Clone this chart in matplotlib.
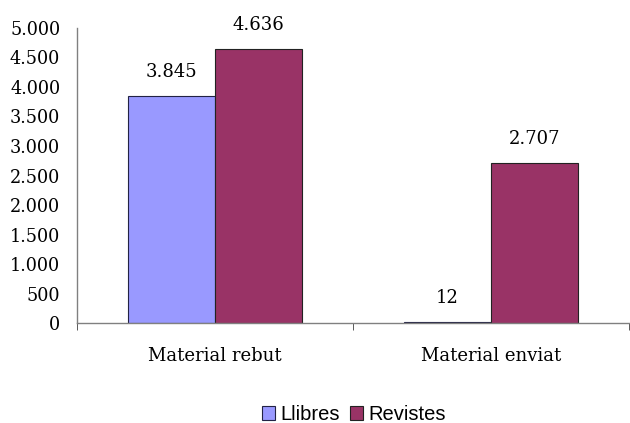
import matplotlib
matplotlib.use('Agg')
import matplotlib.pyplot as plt
import numpy as np
from matplotlib.ticker import FuncFormatter, MultipleLocator

categories = ['Material rebut', 'Material enviat']
series_names = ['Llibres', 'Revistes']
llibres = [3845, 12]
revistes = [4636, 2707]
colors = ['#9999FF', '#993366']

def punts(v):
    # separador de milers amb punt
    return '{:,.0f}'.format(v).replace(',', '.')

fig = plt.figure(figsize=(6.3, 4.23), dpi=100)
ax = fig.add_axes([0.122, 0.236, 0.876, 0.698])

x = np.arange(len(categories))
w = 0.315
bars1 = ax.bar(x - w / 2, llibres, w, color=colors[0], edgecolor='#222244', lw=0.8, label=series_names[0])
bars2 = ax.bar(x + w / 2, revistes, w, color=colors[1], edgecolor='#222222', lw=0.8, label=series_names[1])

# etiquetes de valor
for bars in (bars1, bars2):
    for b in bars:
        ax.annotate(punts(b.get_height()), (b.get_x() + b.get_width() / 2, b.get_height()),
                    xytext=(0, 11), textcoords='offset points', ha='center', va='bottom',
                    fontsize=13, family='DejaVu Serif')

ax.set_xlim(-0.5, 1.5)
ax.set_ylim(0, 5000)
ax.yaxis.set_major_locator(MultipleLocator(500))
ax.yaxis.set_major_formatter(FuncFormatter(lambda v, p: punts(v)))
ax.set_xticks(x)
ax.set_xticklabels(categories)
ax.set_xticks([-0.5, 0.5, 1.5], minor=True)

for s in ['top', 'right']:
    ax.spines[s].set_visible(False)
for s in ['left', 'bottom']:
    ax.spines[s].set_color('#808080')
    ax.spines[s].set_linewidth(1.0)

ax.tick_params(axis='y', length=0, pad=12, labelsize=12.7)
ax.tick_params(axis='x', which='major', length=0, pad=17, labelsize=13)
ax.tick_params(axis='x', which='minor', length=5, color='#404040', direction='out')
for lab in ax.get_xticklabels() + ax.get_yticklabels():
    lab.set_family('DejaVu Serif')

leg = fig.legend(loc='center', bbox_to_anchor=(0.562, 0.02), ncol=2, frameon=False,
                 prop={'family': 'Liberation Sans', 'size': 14.5},
                 handlelength=0.65, handleheight=0.65, handletextpad=0.25, columnspacing=0.5)

plt.savefig('out.png', dpi=100, facecolor='white')
